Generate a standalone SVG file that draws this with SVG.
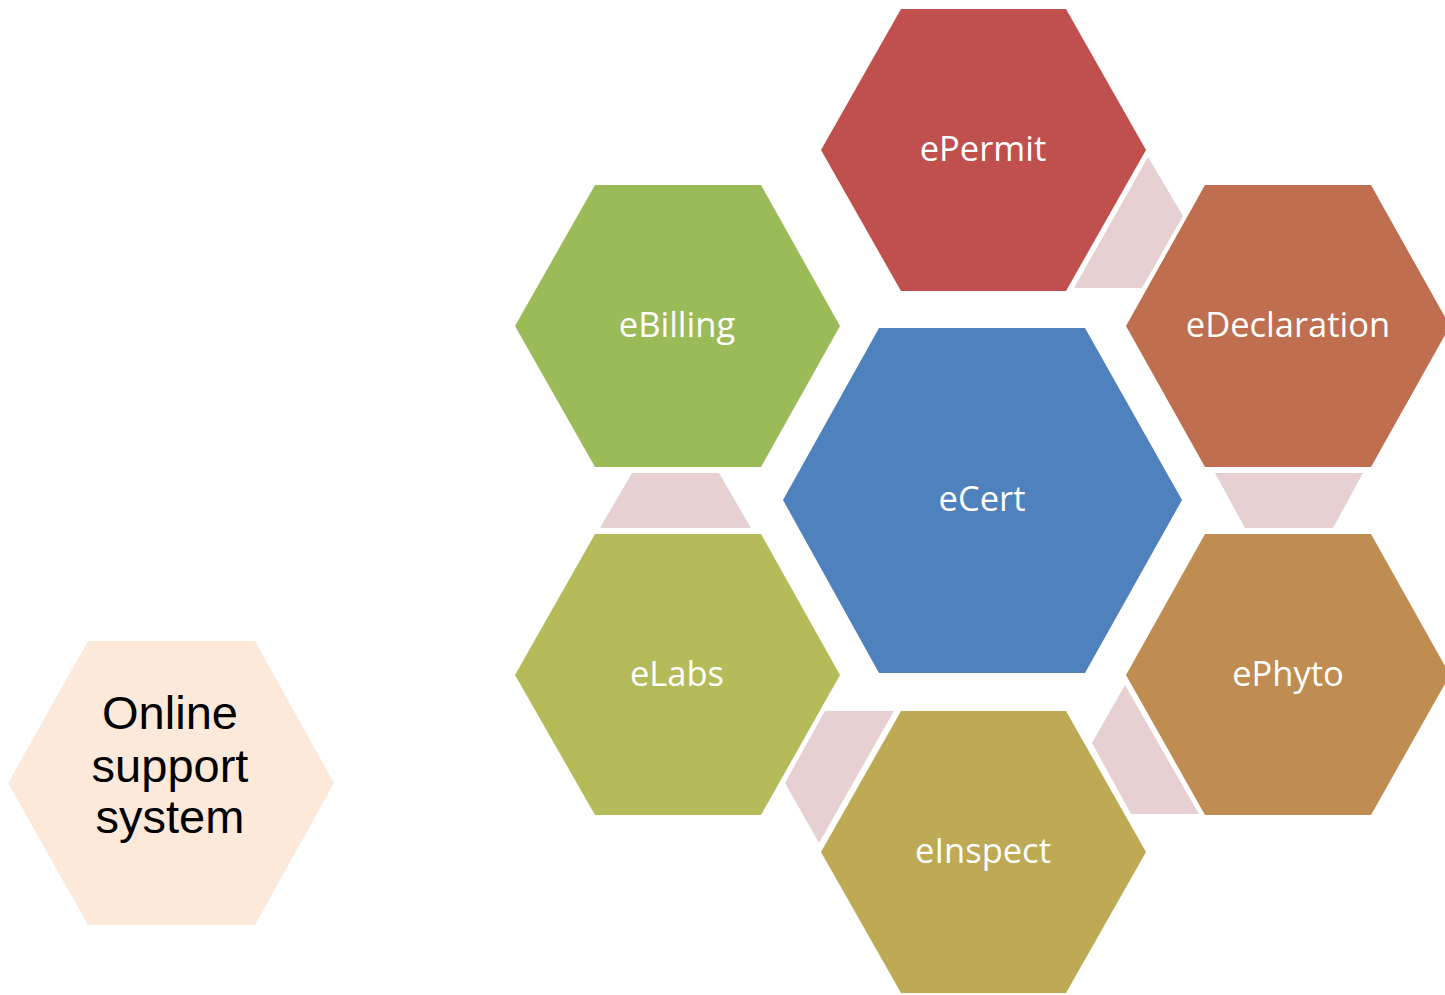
<svg xmlns="http://www.w3.org/2000/svg" width="1445" height="995" viewBox="0 0 1445 995">
<style>
.lbl{font-family:"Open Sans","Liberation Sans",sans-serif;font-size:34.5px;fill:#ffffff;text-anchor:middle}
.olbl{font-family:"Liberation Sans","DejaVu Sans",sans-serif;font-size:47px;fill:#000000;text-anchor:middle}
.conn{fill:#E7D0D2}
</style>
<rect width="1445" height="995" fill="#ffffff"/>
<g id="connectors">
<polygon class="conn" points="1148,157 1183,216 1142,288 1074,288"/>
<polygon class="conn" points="632,473 719,473 751,528 600,528"/>
<polygon class="conn" points="1215,473 1363,473 1333,528 1245,528"/>
<polygon class="conn" points="825,711 894,711 819,843 785,783"/>
<polygon class="conn" points="1125,685 1199,814 1131,814 1092,743"/>
</g>
<g id="ePermit">
<polygon fill="#C0504D" points="821,150 901,9 1066,9 1146,150 1066,291 901,291"/>
<text class="lbl" x="983" y="161">ePermit</text>
</g>
<g id="eBilling">
<polygon fill="#9BBB59" points="515,326 595,185 761,185 840,326 761,467 595,467"/>
<text class="lbl" x="677" y="337">eBilling</text>
</g>
<g id="eCert">
<polygon fill="#4F81BD" points="783,500 879,328 1085,328 1182,500 1085,673 879,673"/>
<text class="lbl" x="982" y="511">eCert</text>
</g>
<g id="eDeclaration">
<polygon fill="#BF6F4F" points="1126,326 1205,185 1371,185 1450,326 1371,467 1205,467"/>
<text class="lbl" x="1288" y="337">eDeclaration</text>
</g>
<g id="ePhyto">
<polygon fill="#BF8D51" points="1126,675 1205,534 1371,534 1450,675 1371,815 1205,815"/>
<text class="lbl" x="1288" y="686">ePhyto</text>
</g>
<g id="eLabs">
<polygon fill="#B5BB59" points="515,675 595,534 761,534 840,675 761,815 595,815"/>
<text class="lbl" x="677" y="686">eLabs</text>
</g>
<g id="eInspect">
<polygon fill="#BEA954" points="821,852 901,711 1066,711 1146,852 1066,993 901,993"/>
<text class="lbl" x="983" y="863">eInspect</text>
</g>
<g id="online-support">
<polygon fill="#FCE9DA" points="8,783 88,641 255,641 334,783 255,925 88,925"/>
<text class="olbl" x="170" y="729">Online</text>
<text class="olbl" x="170" y="782">support</text>
<text class="olbl" x="170" y="833">system</text>
</g>
</svg>
